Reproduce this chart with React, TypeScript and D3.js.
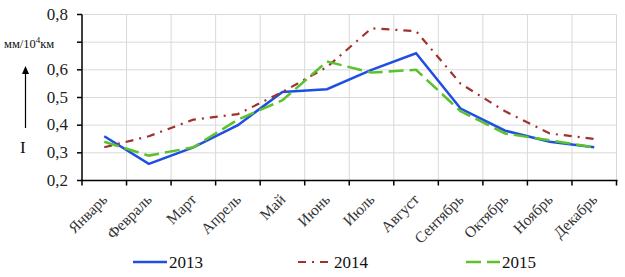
import React, { useEffect, useRef } from "react"
import * as d3 from "d3"

const months = [
    "Январь", "Февраль", "Март", "Апрель", "Май", "Июнь",
    "Июль", "Август", "Сентябрь", "Октябрь", "Ноябрь", "Декабрь",
]
const values2013 = [0.36, 0.26, 0.32, 0.4, 0.52, 0.53, 0.6, 0.66, 0.46, 0.38, 0.34, 0.32]
const values2014 = [0.32, 0.36, 0.42, 0.44, 0.52, 0.61, 0.75, 0.74, 0.55, 0.45, 0.37, 0.35]
const values2015 = [0.34, 0.29, 0.32, 0.42, 0.49, 0.63, 0.59, 0.6, 0.45, 0.37, 0.345, 0.32]
const yTicks = [0.2, 0.3, 0.4, 0.5, 0.6, 0.7, 0.8]
const yLabels = ["0,2", "0,3", "0,4", "0,5", "0,6", "", "0,8"]

const series = [
    { name: "2013", values: values2013, color: "#1f4fe0", dash: null, width: 2.5 },
    { name: "2014", values: values2014, color: "#a0322d", dash: "8,6,2,6", width: 2.2 },
    { name: "2015", values: values2015, color: "#5cc12e", dash: "15,6", width: 2.5 },
]
const legendX = [133, 298, 466]

const App = () => {
    const ref = useRef<SVGSVGElement>(null)

    useEffect(() => {
        const svg = d3.select(ref.current)
        svg.selectAll("*").remove()
        const left = 82
        const right = 616.5
        const top = 14.5
        const bottom = 180.5
        const serif = "Liberation Serif"

        const x = d3.scaleBand().domain(months).range([left, right])
        const y = d3.scaleLinear().domain([0.2, 0.8]).range([bottom, top])
        const bounds = d3.range(months.length + 1).map(i => left + i * x.step())

        // grid
        svg.append("g")
            .selectAll("line")
            .data(yTicks.slice(1))
            .enter()
            .append("line")
            .attr("x1", left).attr("x2", right)
            .attr("y1", d => y(d)).attr("y2", d => y(d))
            .attr("stroke", "#d9d9d9").attr("stroke-width", 1)
        svg.append("g")
            .selectAll("line")
            .data(bounds.slice(1))
            .enter()
            .append("line")
            .attr("x1", d => d).attr("x2", d => d)
            .attr("y1", top).attr("y2", bottom)
            .attr("stroke", "#d9d9d9").attr("stroke-width", 1)

        // axes
        svg.append("line")
            .attr("x1", left).attr("x2", left).attr("y1", top).attr("y2", bottom)
            .attr("stroke", "#000").attr("stroke-width", 1.5)
        svg.append("line")
            .attr("x1", left).attr("x2", right + 1).attr("y1", bottom).attr("y2", bottom)
            .attr("stroke", "#000").attr("stroke-width", 1.5)
        svg.append("g")
            .selectAll("line")
            .data(yTicks)
            .enter()
            .append("line")
            .attr("x1", left - 5).attr("x2", left)
            .attr("y1", d => y(d)).attr("y2", d => y(d))
            .attr("stroke", "#000").attr("stroke-width", 1.5)
        svg.append("g")
            .selectAll("line")
            .data(bounds)
            .enter()
            .append("line")
            .attr("x1", d => d).attr("x2", d => d)
            .attr("y1", bottom).attr("y2", bottom + 5)
            .attr("stroke", "#000").attr("stroke-width", 1.5)

        svg.append("g")
            .selectAll("text")
            .data(yTicks)
            .enter()
            .append("text")
            .attr("x", left - 14)
            .attr("y", d => y(d) + 5)
            .attr("text-anchor", "end")
            .style("font-family", serif)
            .attr("font-size", 17)
            .attr("fill", "#222")
            .text((d, i) => yLabels[i])

        // month labels
        svg.append("g")
            .selectAll("text")
            .data(months)
            .enter()
            .append("text")
            .attr("transform", d => `translate(${(x(d) as number) + x.bandwidth() / 2 + 4},${bottom + 20}) rotate(-45)`)
            .attr("text-anchor", "end")
            .style("font-family", serif)
            .attr("font-size", 15.5)
            .attr("fill", "#333")
            .text(d => d)

        // unit label, arrow, I
        const unit = svg.append("text")
            .attr("x", 4).attr("y", 48)
            .style("font-family", serif).attr("font-size", 12.5).attr("fill", "#111")
        unit.append("tspan").text("мм/10")
        unit.append("tspan").attr("dy", -5).attr("font-size", 9).text("4")
        unit.append("tspan").attr("dy", 5).text("км")
        svg.append("line")
            .attr("x1", 25.5).attr("x2", 25.5).attr("y1", 128).attr("y2", 72)
            .attr("stroke", "#000").attr("stroke-width", 1.2)
        svg.append("path")
            .attr("d", "M25.5,66 L22,74 L29,74 Z")
            .attr("fill", "#000")
        svg.append("text")
            .attr("x", 20).attr("y", 153)
            .style("font-family", serif).attr("font-size", 17).attr("fill", "#111")
            .text("I")

        // lines
        const line = d3.line<number>()
            .x((d, i) => (x(months[i]) as number) + x.bandwidth() / 2)
            .y(d => y(d))
        series.forEach(s => {
            svg.append("path")
                .datum(s.values)
                .attr("d", line)
                .attr("fill", "none")
                .attr("stroke", s.color)
                .attr("stroke-width", s.width)
                .attr("stroke-dasharray", s.dash)
        })

        // legend
        series.forEach((s, i) => {
            const lx = legendX[i]
            svg.append("line")
                .attr("x1", lx).attr("x2", lx + 34)
                .attr("y1", 262).attr("y2", 262)
                .attr("stroke", s.color)
                .attr("stroke-width", s.width)
                .attr("stroke-dasharray", s.dash)
            svg.append("text")
                .attr("x", lx + 36).attr("y", 268)
                .style("font-family", serif).attr("font-size", 17).attr("fill", "#111")
                .text(s.name)
        })
    }, [])

    return (
        <svg
            ref={ref}
            width={625}
            height={277}
            style={{ position: "absolute", left: 0, top: 0, background: "#fff" }}
        />
    )
}

export default App
